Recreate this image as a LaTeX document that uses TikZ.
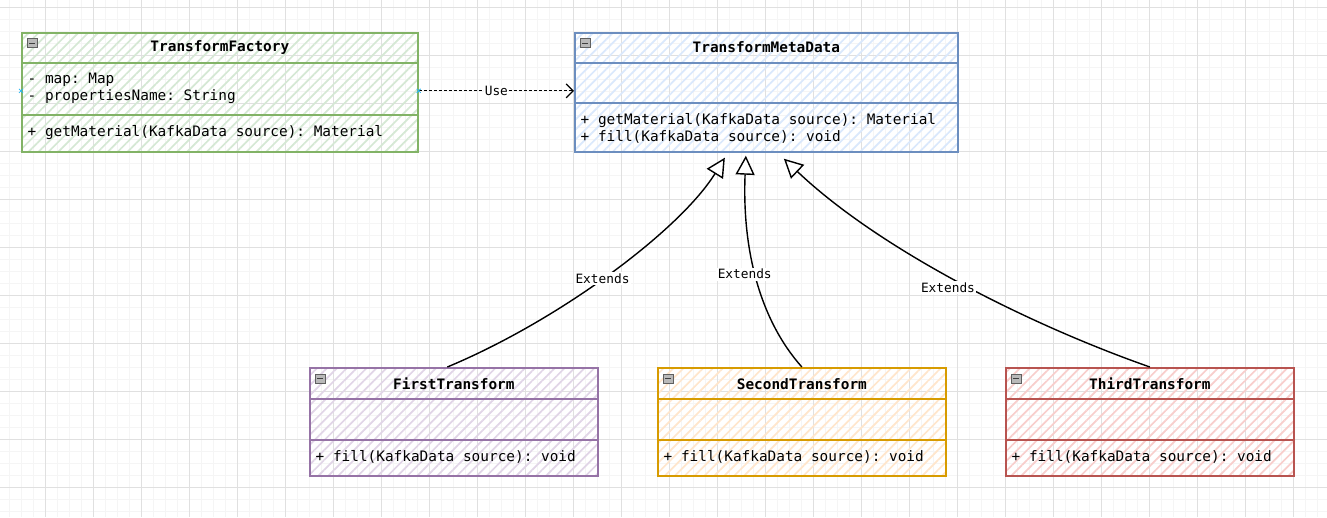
\documentclass[tikz,border=0pt]{standalone}
\usepackage{fontspec}
\setmonofont{DejaVu Sans Mono}
\usetikzlibrary{arrows.meta,patterns.meta}
\definecolor{greenline}{HTML}{82B366}\definecolor{greenfill}{HTML}{D5E8D4}
\definecolor{blueline}{HTML}{6C8EBF}\definecolor{bluefill}{HTML}{DAE8FC}
\definecolor{purpleline}{HTML}{9673A6}\definecolor{purplefill}{HTML}{E1D5E7}
\definecolor{orangeline}{HTML}{D79B00}\definecolor{orangefill}{HTML}{FFE6CC}
\definecolor{redline}{HTML}{B85450}\definecolor{redfill}{HTML}{F8CECC}
\definecolor{minorgrid}{HTML}{F5F5F5}\definecolor{majorgrid}{HTML}{E0E0E0}
\definecolor{markblue}{HTML}{29B6F2}
\tikzset{
  cls/.style={rectangle, draw=#1line, line width=1.7pt, inner sep=0pt, anchor=north west,
    pattern={Lines[angle=45,distance=7pt,line width=1.7pt]}, pattern color=#1fill},
  divider/.style={draw=#1line, line width=1.5pt},
  titletext/.style={font=\ttfamily\bfseries\fontsize{14.4}{17}\selectfont, inner sep=0pt},
  membertext/.style={font=\ttfamily\fontsize{14.4}{17}\selectfont, align=left, anchor=west, inner sep=0pt},
  lbl/.style={fill=white, inner sep=1.5pt, font=\ttfamily\fontsize{12.8}{15}\selectfont},
  collapse/.style={rectangle, draw=gray!75!black, fill=gray!55, line width=0.6pt, minimum width=10pt, minimum height=9pt, inner sep=0pt, anchor=north west,
    path picture={\draw[black!75, line width=1pt] ([xshift=2pt]path picture bounding box.west) -- ([xshift=-2pt]path picture bounding box.east);}},
  ext/.style={draw=black, line width=1.4pt, -{Triangle[length=19pt,width=19pt,fill=white]}},
  dep/.style={draw=black, line width=1.2pt, dash pattern=on 3pt off 2pt, -{Straight Barb[length=7pt,width=14pt]}},
  hover/.style={draw=markblue, line width=0.8pt}
}
\begin{document}
\begin{tikzpicture}[x=1pt,y=-1pt]
\useasboundingbox (0,0) rectangle (1327,517);
\fill[white] (0,0) rectangle (1327,517);
% grid
\foreach \i in {0,...,111} \draw[minorgrid, line width=1pt] ({-2.7+12*\i},0) -- ({-2.7+12*\i},517);
\foreach \i in {0,...,43} \draw[minorgrid, line width=1pt] (0,{7.3+12*\i}) -- (1327,{7.3+12*\i});
\foreach \i in {0,...,28} \draw[majorgrid, line width=1pt] ({-2.7+48*\i},0) -- ({-2.7+48*\i},517);
\foreach \i in {0,...,10} \draw[majorgrid, line width=1pt] (0,{7.3+48*\i}) -- (1327,{7.3+48*\i});

% TransformFactory
\node[cls=green, minimum width=396pt, minimum height=119pt] (tf) at (21,32) {};
\draw[divider=green] (tf.west |- 0,63) -- (tf.east |- 0,63);
\draw[divider=green] (tf.west |- 0,115) -- (tf.east |- 0,115);
\node[collapse] (tf-c) at (26.7,38.3) {};
\node[titletext] (tf-t) at (tf.north |- 0,47.5) {TransformFactory};
\node[membertext] (tf-a) at (27.5,88.5) {- map: Map\\- propertiesName: String};
\node[membertext] (tf-m) at (27.5,132.5) {+ getMaterial(KafkaData source): Material};

% TransformMetaData
\node[cls=blue, minimum width=383pt, minimum height=119pt] (tmd) at (574,32) {};
\draw[divider=blue] (tmd.west |- 0,63) -- (tmd.east |- 0,63);
\draw[divider=blue] (tmd.west |- 0,103) -- (tmd.east |- 0,103);
\node[collapse] (tmd-c) at (579.7,38.3) {};
\node[titletext] (tmd-t) at (tmd.north |- 0,47.5) {TransformMetaData};
\node[membertext] (tmd-m) at (580.5,128.7) {+ getMaterial(KafkaData source): Material\\+ fill(KafkaData source): void};

% FirstTransform
\node[cls=purple, minimum width=288pt, minimum height=108pt] (ft) at (309,367) {};
\draw[divider=purple] (ft.west |- 0,399) -- (ft.east |- 0,399);
\draw[divider=purple] (ft.west |- 0,440) -- (ft.east |- 0,440);
\node[collapse] (ft-c) at (314.7,373.5) {};
\node[titletext] (ft-t) at (ft.north |- 0,384) {FirstTransform};
\node[membertext] (ft-m) at (315.5,457) {+ fill(KafkaData source): void};

% SecondTransform
\node[cls=orange, minimum width=288pt, minimum height=108pt] (st) at (657,367) {};
\draw[divider=orange] (st.west |- 0,399) -- (st.east |- 0,399);
\draw[divider=orange] (st.west |- 0,440) -- (st.east |- 0,440);
\node[collapse] (st-c) at (662.7,373.5) {};
\node[titletext] (st-t) at (st.north |- 0,384) {SecondTransform};
\node[membertext] (st-m) at (663.5,457) {+ fill(KafkaData source): void};

% ThirdTransform
\node[cls=red, minimum width=288pt, minimum height=108pt] (tt) at (1005,367) {};
\draw[divider=red] (tt.west |- 0,399) -- (tt.east |- 0,399);
\draw[divider=red] (tt.west |- 0,440) -- (tt.east |- 0,440);
\node[collapse] (tt-c) at (1010.7,373.5) {};
\node[titletext] (tt-t) at (tt.north |- 0,384) {ThirdTransform};
\node[membertext] (tt-m) at (1011.5,457) {+ fill(KafkaData source): void};

% Use dependency
\draw[dep] ([yshift=1.5pt]tf.east) -- node[lbl, inner sep=0.5pt] {Use} ([yshift=1.5pt]tmd.west);
\coordinate (hl) at ([yshift=1.5pt]tf.west);
\coordinate (hr) at ([yshift=1.5pt]tf.east);
\draw[hover] ([shift={(-2pt,-2pt)}]hl) -- ([shift={(2pt,2pt)}]hl) ([shift={(-2pt,2pt)}]hl) -- ([shift={(2pt,-2pt)}]hl);
\draw[hover] ([shift={(-2pt,-2pt)}]hr) -- ([shift={(2pt,2pt)}]hr) ([shift={(-2pt,2pt)}]hr) -- ([shift={(2pt,-2pt)}]hr);

% Extends
\draw[ext] ([xshift=-6.5pt]ft.north) .. controls (560,320) and (680,230) .. ([xshift=-41.5pt,yshift=-5pt]tmd.south)
  node[pos=.47, lbl] {Extends};
\draw[ext] (st.north) .. controls (760,320) and (742,250) .. ([xshift=-20.5pt,yshift=-3pt]tmd.south)
  node[pos=.5, lbl, xshift=-12pt, yshift=5pt] {Extends};
\draw[ext] (tt.north) .. controls (1030,325) and (880,250) .. ([xshift=17.5pt,yshift=-6pt]tmd.south)
  node[pos=.5, lbl, xshift=-10pt, yshift=-6pt] {Extends};
\end{tikzpicture}
\end{document}
